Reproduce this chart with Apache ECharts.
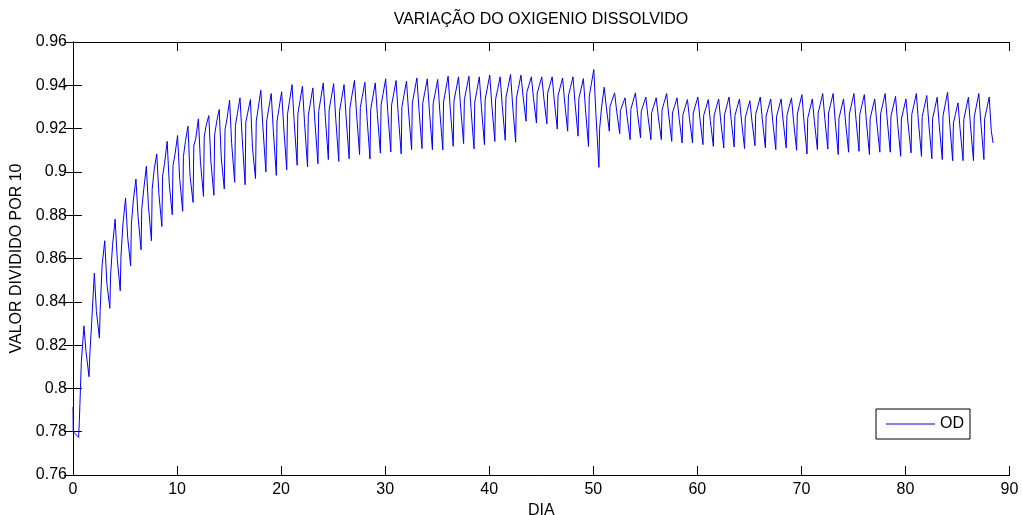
<!DOCTYPE html>
<html>
<head>
<meta charset="utf-8">
<script src="https://cdn.jsdelivr.net/npm/echarts@6/dist/echarts.min.js"></script>
<style>
html,body{margin:0;padding:0;background:#fff;}
#chart{width:1022px;height:515px;}
</style>
</head>
<body>
<div id="chart"></div>
<script>
// Values (index = day number)
const startDays = [0, 0.02];
const startVals = [0.7915, 0.7800];
const peak = [null,0.8289,0.8532,0.8682,0.8782,0.8879,0.8967,0.9026,0.9083,0.9141,0.9168,
  0.9211,0.9245,0.9260,0.9288,0.9331,0.9342,0.9334,0.9377,0.9362,0.9370,
  0.9403,0.9396,0.9388,0.9411,0.9408,0.9403,0.9423,0.9414,0.9411,0.9430,
  0.9422,0.9419,0.9434,0.9430,0.9427,0.9442,0.9439,0.9442,0.9439,0.9447,
  0.9439,0.9450,0.9447,0.9439,0.9439,0.9439,0.9434,0.9439,0.9431,0.9473,
  0.9391,0.9365,0.9342,0.9365,0.9346,0.9342,0.9362,0.9342,0.9334,0.9346,
  0.9334,0.9337,0.9346,0.9337,0.9329,0.9346,0.9337,0.9337,0.9342,0.9357,
  0.9337,0.9362,0.9362,0.9337,0.9362,0.9357,0.9337,0.9362,0.9349,0.9337,
  0.9362,0.9353,0.9345,0.9368,0.9319,0.9345,0.9362,0.9346];
const fall = [null,0.8170,0.8355,0.8488,0.8600,0.8700,0.8795,0.8840,0.8900,0.8945,0.8970,
  0.8980,0.9045,0.9050,0.9065,0.9130,0.9165,0.9110,0.9207,0.9192,0.9208,
  0.9236,0.9228,0.9230,0.9252,0.9246,0.9249,0.9269,0.9255,0.9265,0.9278,
  0.9269,0.9277,0.9287,0.9283,0.9281,0.9296,0.9300,0.9291,0.9298,0.9309,
  0.9307,0.9309,0.9351,0.9343,0.9341,0.9331,0.9323,0.9316,0.9290,0.9270,
  0.9300,0.9280,0.9255,0.9271,0.9257,0.9255,0.9263,0.9248,0.9244,0.9247,
  0.9237,0.9235,0.9242,0.9234,0.9235,0.9240,0.9232,0.9235,0.9233,0.9234,
  0.9232,0.9247,0.9235,0.9226,0.9242,0.9232,0.9226,0.9240,0.9224,0.9225,
  0.9231,0.9222,0.9215,0.9226,0.9199,0.9213,0.9225,0.9190];
const trough = [0.7774,0.8054,0.8232,0.8370,0.8451,0.8566,0.8640,0.8682,0.8748,0.8802,
  0.8818,0.8859,0.8887,0.8892,0.8921,0.8952,0.8941,0.8969,0.9000,0.8984,
  0.9010,0.9031,0.9023,0.9038,0.9057,0.9049,0.9061,0.9080,0.9060,0.9087,
  0.9092,0.9083,0.9103,0.9108,0.9103,0.9102,0.9118,0.9131,0.9106,0.9126,
  0.9141,0.9146,0.9137,0.9234,0.9226,0.9222,0.9198,0.9188,0.9165,0.9118,
  0.9021,0.9188,0.9177,0.9149,0.9157,0.9149,0.9149,0.9141,0.9134,0.9134,
  0.9126,0.9118,0.9111,0.9115,0.9108,0.9121,0.9111,0.9103,0.9111,0.9100,
  0.9083,0.9103,0.9106,0.9080,0.9091,0.9095,0.9080,0.9091,0.9091,0.9072,
  0.9088,0.9072,0.9061,0.9057,0.9052,0.9052,0.9052,0.9057];
const rise = [0.7850,0.8150,0.8360,0.8520,0.8610,0.8760,0.8830,0.8920,0.8980,0.9030,
  0.9070,0.9120,0.9160,0.9170,0.9195,0.9215,0.9230,0.9234,0.9235,0.9235,
  0.9265,0.9268,0.9260,0.9280,0.9285,0.9279,0.9296,0.9297,0.9288,0.9310,
  0.9307,0.9301,0.9318,0.9317,0.9314,0.9323,0.9327,0.9333,0.9322,0.9335,
  0.9335,0.9344,0.9339,0.9367,0.9364,0.9363,0.9351,0.9351,0.9338,0.9349,
  0.9200,0.9303,0.9284,0.9289,0.9280,0.9274,0.9287,0.9272,0.9264,0.9272,
  0.9261,0.9260,0.9264,0.9259,0.9252,0.9267,0.9258,0.9255,0.9261,0.9267,
  0.9248,0.9271,0.9272,0.9247,0.9267,0.9265,0.9247,0.9267,0.9259,0.9244,
  0.9266,0.9255,0.9246,0.9259,0.9226,0.9242,0.9254,0.9245];
const shoulder = [0.8120,0.8310,0.8570,0.8660,0.8760,0.8870,0.8920,0.9010,0.9040,0.9080,
  0.9140,0.9155,0.9215,0.9230,0.9245,0.9270,0.9275,0.9295,0.9290,0.9293,
  0.9324,0.9323,0.9315,0.9336,0.9338,0.9332,0.9351,0.9347,0.9341,0.9361,
  0.9356,0.9352,0.9368,0.9366,0.9362,0.9374,0.9375,0.9380,0.9372,0.9383,
  0.9379,0.9389,0.9385,0.9398,0.9396,0.9396,0.9387,0.9389,0.9378,0.9402,
  0.9300,0.9330,0.9309,0.9322,0.9308,0.9303,0.9319,0.9302,0.9294,0.9304,
  0.9292,0.9293,0.9299,0.9293,0.9285,0.9301,0.9292,0.9290,0.9296,0.9306,
  0.9286,0.9310,0.9311,0.9286,0.9308,0.9305,0.9286,0.9308,0.9297,0.9284,
  0.9307,0.9297,0.9288,0.9306,0.9266,0.9286,0.9300,0.9288];
const endDay = 88.42;
const endVal = 0.9134;
// time of day (fraction) at which each reading was taken
const phase = {peak: 0.05, fall: 0.25, trough: 0.54, rise: 0.61, shoulder: 0.80};
const xTicks = [0, 10, 20, 30, 40, 50, 60, 70, 80, 90];
const yTicks = [0.76, 0.78, 0.80, 0.82, 0.84, 0.86, 0.88, 0.90, 0.92, 0.94, 0.96];

const pts = [];
for (let i = 0; i < startDays.length; i++) pts.push([startDays[i], startVals[i]]);
for (let d = 0; d < peak.length; d++) {
  if (peak[d] != null) pts.push([d + phase.peak, peak[d]]);
  if (fall[d] != null) pts.push([d + phase.fall, fall[d]]);
  if (d < trough.length) {
    pts.push([d + phase.trough, trough[d]]);
    pts.push([d + phase.rise, rise[d]]);
    pts.push([d + phase.shoulder, shoulder[d]]);
  }
}
pts.push([endDay, endVal]);

const FONT = 'Liberation Sans, Arial, Helvetica, sans-serif';
const chart = echarts.init(document.getElementById('chart'), null, {renderer: 'canvas'});
const axisCommon = {
  axisLine: {show: true, lineStyle: {color: '#000', width: 1}},
  axisTick: {show: true, inside: true, length: 9, lineStyle: {color: '#000', width: 1}},
  splitLine: {show: false}
};
chart.setOption({
  animation: false,
  backgroundColor: '#fff',
  title: {
    text: 'VARIAÇÃO DO OXIGENIO DISSOLVIDO',
    left: 541, top: 12, textAlign: 'center', padding: 0,
    textStyle: {fontFamily: FONT, fontSize: 16, fontWeight: 'normal', color: '#000'}
  },
  legend: {
    data: [{name: 'OD', icon: 'rect'}], left: 876, top: 409, orient: 'horizontal',
    backgroundColor: '#fff', borderColor: '#000', borderWidth: 1,
    padding: [7, 6, 7, 10], itemWidth: 49, itemHeight: 1, itemGap: 5,
    itemStyle: {color: '#0000ff'},
    textStyle: {fontFamily: FONT, fontSize: 16, color: '#000', lineHeight: 16}
  },
  grid: {left: 73, right: 12.5, top: 42, bottom: 40, containLabel: false, outerBoundsMode: 'none'},
  xAxis: [
    Object.assign({
      type: 'value', min: xTicks[0], max: xTicks[xTicks.length - 1], interval: 10,
      position: 'bottom',
      name: 'DIA', nameLocation: 'middle', nameGap: 26,
      nameTextStyle: {fontFamily: FONT, fontSize: 16, color: '#000'},
      axisLabel: {fontFamily: FONT, fontSize: 16, color: '#000', margin: 7}
    }, axisCommon),
    Object.assign({
      type: 'value', min: xTicks[0], max: xTicks[xTicks.length - 1], interval: 10,
      position: 'top', axisLabel: {show: false}
    }, axisCommon)
  ],
  yAxis: [
    Object.assign({
      type: 'value', min: yTicks[0], max: yTicks[yTicks.length - 1], interval: 0.02,
      position: 'left',
      name: 'VALOR DIVIDIDO POR 10', nameLocation: 'middle', nameGap: 46, nameRotate: 90,
      nameTextStyle: {fontFamily: FONT, fontSize: 16, color: '#000'},
      axisLabel: {fontFamily: FONT, fontSize: 16, color: '#000', margin: 6,
        formatter: v => String(Math.round(v * 100) / 100)}
    }, axisCommon),
    Object.assign({
      type: 'value', min: yTicks[0], max: yTicks[yTicks.length - 1], interval: 0.02,
      position: 'right', axisLabel: {show: false}
    }, axisCommon)
  ],
  series: [{
    name: 'OD', type: 'line', data: pts, symbol: 'none', showSymbol: false,
    xAxisIndex: 0, yAxisIndex: 0,
    lineStyle: {color: '#0000ff', width: 1}, itemStyle: {color: '#0000ff'},
    emphasis: {disabled: true}
  }]
});
</script>
</body>
</html>
